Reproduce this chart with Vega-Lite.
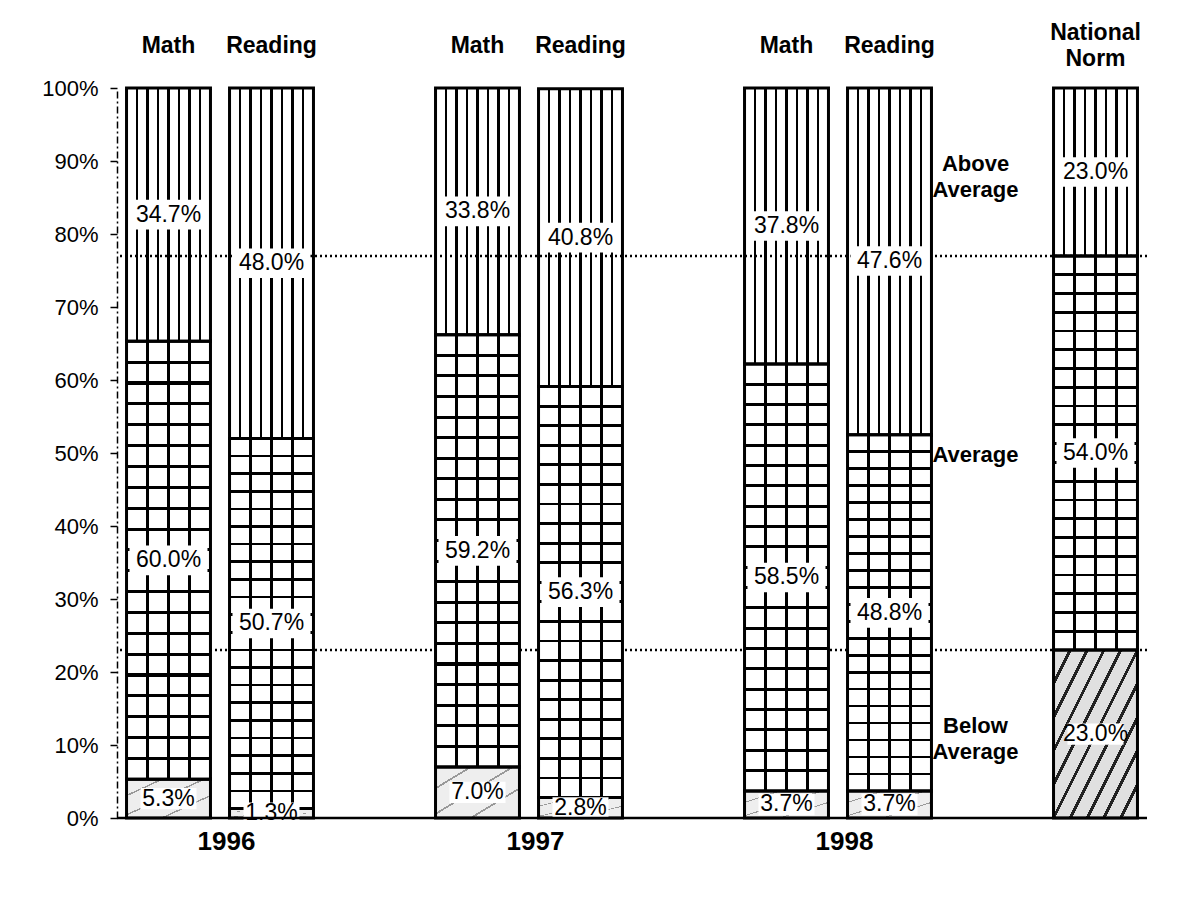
{
  "$schema": "https://vega.github.io/schema/vega-lite/v6.json",
  "autosize": "none",
  "padding": {"left": 117, "top": 88, "right": 30, "bottom": 81},
  "width": 1030,
  "height": 730,
  "background": "white",
  "config": {"view": {"stroke": null}, "font": "Liberation Sans"},
  "data": {"values": [
    {"group": "1996 Math", "year": "1996", "subject": "Math", "level": "Below", "value": 0.053},
    {"group": "1996 Math", "year": "1996", "subject": "Math", "level": "Average", "value": 0.600},
    {"group": "1996 Math", "year": "1996", "subject": "Math", "level": "Above", "value": 0.347},
    {"group": "1996 Reading", "year": "1996", "subject": "Reading", "level": "Below", "value": 0.013},
    {"group": "1996 Reading", "year": "1996", "subject": "Reading", "level": "Average", "value": 0.507},
    {"group": "1996 Reading", "year": "1996", "subject": "Reading", "level": "Above", "value": 0.480},
    {"group": "1997 Math", "year": "1997", "subject": "Math", "level": "Below", "value": 0.070},
    {"group": "1997 Math", "year": "1997", "subject": "Math", "level": "Average", "value": 0.592},
    {"group": "1997 Math", "year": "1997", "subject": "Math", "level": "Above", "value": 0.338},
    {"group": "1997 Reading", "year": "1997", "subject": "Reading", "level": "Below", "value": 0.028},
    {"group": "1997 Reading", "year": "1997", "subject": "Reading", "level": "Average", "value": 0.563},
    {"group": "1997 Reading", "year": "1997", "subject": "Reading", "level": "Above", "value": 0.408},
    {"group": "1998 Math", "year": "1998", "subject": "Math", "level": "Below", "value": 0.037},
    {"group": "1998 Math", "year": "1998", "subject": "Math", "level": "Average", "value": 0.585},
    {"group": "1998 Math", "year": "1998", "subject": "Math", "level": "Above", "value": 0.378},
    {"group": "1998 Reading", "year": "1998", "subject": "Reading", "level": "Below", "value": 0.037},
    {"group": "1998 Reading", "year": "1998", "subject": "Reading", "level": "Average", "value": 0.488},
    {"group": "1998 Reading", "year": "1998", "subject": "Reading", "level": "Above", "value": 0.476},
    {"group": "National Norm", "year": "", "subject": "National Norm", "level": "Below", "value": 0.23},
    {"group": "National Norm", "year": "", "subject": "National Norm", "level": "Average", "value": 0.54},
    {"group": "National Norm", "year": "", "subject": "National Norm", "level": "Above", "value": 0.23}
  ]},
  "transform": [
    {"calculate": "indexof(['Below','Average','Above'], datum.level)", "as": "rank"},
    {"stack": "value", "groupby": ["group"], "sort": [{"field": "rank", "order": "ascending"}], "as": ["v0", "v1"]},
    {"calculate": "(datum.v0 + datum.v1) / 2", "as": "mid"}
  ],
  "layer": [
    {
      "transform": [{"filter": "datum.level === 'Above'"}],
      "mark": {"type": "bar", "stroke": null, "fill": {"gradient": "linear", "x1": 0, "y1": 0, "x2": 1, "y2": 0, "stops": [
        {"offset": 0, "color": "#ffffff"},
        {"offset": 0.11, "color": "#ffffff"}, {"offset": 0.11, "color": "#000000"}, {"offset": 0.14, "color": "#000000"}, {"offset": 0.14, "color": "#ffffff"},
        {"offset": 0.235, "color": "#ffffff"}, {"offset": 0.235, "color": "#000000"}, {"offset": 0.265, "color": "#000000"}, {"offset": 0.265, "color": "#ffffff"},
        {"offset": 0.36, "color": "#ffffff"}, {"offset": 0.36, "color": "#000000"}, {"offset": 0.39, "color": "#000000"}, {"offset": 0.39, "color": "#ffffff"},
        {"offset": 0.485, "color": "#ffffff"}, {"offset": 0.485, "color": "#000000"}, {"offset": 0.515, "color": "#000000"}, {"offset": 0.515, "color": "#ffffff"},
        {"offset": 0.61, "color": "#ffffff"}, {"offset": 0.61, "color": "#000000"}, {"offset": 0.64, "color": "#000000"}, {"offset": 0.64, "color": "#ffffff"},
        {"offset": 0.735, "color": "#ffffff"}, {"offset": 0.735, "color": "#000000"}, {"offset": 0.765, "color": "#000000"}, {"offset": 0.765, "color": "#ffffff"},
        {"offset": 0.86, "color": "#ffffff"}, {"offset": 0.86, "color": "#000000"}, {"offset": 0.89, "color": "#000000"}, {"offset": 0.89, "color": "#ffffff"},
        {"offset": 1, "color": "#ffffff"}
      ]}},
      "encoding": {
        "x": {"field": "group", "type": "nominal", "title": null, "scale": {"domain": ["1996 Math", "1996 Reading", "g1", "1997 Math", "1997 Reading", "g2", "1998 Math", "1998 Reading", "labels", "National Norm"], "paddingInner": 0.185, "paddingOuter": 0.0925},
          "axis": {"orient": "top", "title": null, "domain": false, "ticks": false, "labelAngle": 0, "labelFont": "Liberation Sans", "labelFontWeight": "bold", "labelFontSize": 23, "labelColor": "#000000", "labelPadding": {"condition": {"test": "datum.value == 'National Norm'", "value": 56}, "value": 43}, "labelBaseline": "middle", "labelLineHeight": 26, "labelOverlap": false, "labelLimit": 200, "labelExpr": "datum.value == 'National Norm' ? ['National','Norm'] : indexof(datum.value, ' ') > 0 ? split(datum.value, ' ')[1] : ''"}},
        "y": {"field": "v1", "type": "quantitative", "title": null, "scale": {"domain": [0, 1], "clamp": true},
          "axis": {"title": null, "values": [0, 0.1, 0.2, 0.3, 0.4, 0.5, 0.6, 0.7, 0.8, 0.9, 1], "format": "%", "grid": false, "domainColor": "#000000", "domainDash": [7, 3, 2, 3], "domainWidth": 1.5, "tickColor": "#000000", "tickSize": 7, "tickWidth": 1.5, "labelFontSize": 22, "labelColor": "#000000", "labelPadding": 12, "labelFont": "Liberation Sans"}},
        "y2": {"field": "v0"}
      }
    },
    {
      "data": {"values": [{"p": 0.23}, {"p": 0.77}]},
      "mark": {"type": "rule", "strokeDash": [2, 3], "strokeWidth": 2.5, "color": "#000000"},
      "encoding": {
        "y": {"field": "p", "type": "quantitative", "title": null, "scale": {"domain": [0, 1], "clamp": true}}
      }
    },
    {
      "transform": [{"filter": "datum.level === 'Average'"}],
      "mark": {"type": "bar", "stroke": null, "fill": {"gradient": "linear", "x1": 0, "y1": 0, "x2": 1, "y2": 0, "stops": [
        {"offset": 0, "color": "#ffffff"},
        {"offset": 0.2325, "color": "#ffffff"}, {"offset": 0.2325, "color": "#000000"}, {"offset": 0.2675, "color": "#000000"}, {"offset": 0.2675, "color": "#ffffff"},
        {"offset": 0.4825, "color": "#ffffff"}, {"offset": 0.4825, "color": "#000000"}, {"offset": 0.5175, "color": "#000000"}, {"offset": 0.5175, "color": "#ffffff"},
        {"offset": 0.7325, "color": "#ffffff"}, {"offset": 0.7325, "color": "#000000"}, {"offset": 0.7675, "color": "#000000"}, {"offset": 0.7675, "color": "#ffffff"},
        {"offset": 1, "color": "#ffffff"}
      ]}},
      "encoding": {
        "x": {"field": "group", "type": "nominal", "title": null, "scale": {"domain": ["1996 Math", "1996 Reading", "g1", "1997 Math", "1997 Reading", "g2", "1998 Math", "1998 Reading", "labels", "National Norm"], "paddingInner": 0.185, "paddingOuter": 0.0925}},
        "y": {"field": "v1", "type": "quantitative", "title": null, "scale": {"domain": [0, 1], "clamp": true}},
        "y2": {"field": "v0"}
      }
    },
    {
      "transform": [{"filter": "datum.level === 'Average'"}],
      "mark": {"type": "bar", "stroke": null, "fill": {"gradient": "linear", "x1": 0, "y1": 0, "x2": 0, "y2": 1, "stops": [
        {"offset": 0, "color": "rgba(0,0,0,0)"},
        {"offset": 0.0441, "color": "rgba(0,0,0,0)"}, {"offset": 0.0441, "color": "#000000"}, {"offset": 0.0511, "color": "#000000"}, {"offset": 0.0511, "color": "rgba(0,0,0,0)"},
        {"offset": 0.0917, "color": "rgba(0,0,0,0)"}, {"offset": 0.0917, "color": "#000000"}, {"offset": 0.0987, "color": "#000000"}, {"offset": 0.0987, "color": "rgba(0,0,0,0)"},
        {"offset": 0.1394, "color": "rgba(0,0,0,0)"}, {"offset": 0.1394, "color": "#000000"}, {"offset": 0.1464, "color": "#000000"}, {"offset": 0.1464, "color": "rgba(0,0,0,0)"},
        {"offset": 0.1870, "color": "rgba(0,0,0,0)"}, {"offset": 0.1870, "color": "#000000"}, {"offset": 0.1940, "color": "#000000"}, {"offset": 0.1940, "color": "rgba(0,0,0,0)"},
        {"offset": 0.2346, "color": "rgba(0,0,0,0)"}, {"offset": 0.2346, "color": "#000000"}, {"offset": 0.2416, "color": "#000000"}, {"offset": 0.2416, "color": "rgba(0,0,0,0)"},
        {"offset": 0.2822, "color": "rgba(0,0,0,0)"}, {"offset": 0.2822, "color": "#000000"}, {"offset": 0.2892, "color": "#000000"}, {"offset": 0.2892, "color": "rgba(0,0,0,0)"},
        {"offset": 0.3298, "color": "rgba(0,0,0,0)"}, {"offset": 0.3298, "color": "#000000"}, {"offset": 0.3368, "color": "#000000"}, {"offset": 0.3368, "color": "rgba(0,0,0,0)"},
        {"offset": 0.3775, "color": "rgba(0,0,0,0)"}, {"offset": 0.3775, "color": "#000000"}, {"offset": 0.3845, "color": "#000000"}, {"offset": 0.3845, "color": "rgba(0,0,0,0)"},
        {"offset": 0.4251, "color": "rgba(0,0,0,0)"}, {"offset": 0.4251, "color": "#000000"}, {"offset": 0.4321, "color": "#000000"}, {"offset": 0.4321, "color": "rgba(0,0,0,0)"},
        {"offset": 0.4727, "color": "rgba(0,0,0,0)"}, {"offset": 0.4727, "color": "#000000"}, {"offset": 0.4797, "color": "#000000"}, {"offset": 0.4797, "color": "rgba(0,0,0,0)"},
        {"offset": 0.5203, "color": "rgba(0,0,0,0)"}, {"offset": 0.5203, "color": "#000000"}, {"offset": 0.5273, "color": "#000000"}, {"offset": 0.5273, "color": "rgba(0,0,0,0)"},
        {"offset": 0.5679, "color": "rgba(0,0,0,0)"}, {"offset": 0.5679, "color": "#000000"}, {"offset": 0.5749, "color": "#000000"}, {"offset": 0.5749, "color": "rgba(0,0,0,0)"},
        {"offset": 0.6155, "color": "rgba(0,0,0,0)"}, {"offset": 0.6155, "color": "#000000"}, {"offset": 0.6225, "color": "#000000"}, {"offset": 0.6225, "color": "rgba(0,0,0,0)"},
        {"offset": 0.6632, "color": "rgba(0,0,0,0)"}, {"offset": 0.6632, "color": "#000000"}, {"offset": 0.6702, "color": "#000000"}, {"offset": 0.6702, "color": "rgba(0,0,0,0)"},
        {"offset": 0.7108, "color": "rgba(0,0,0,0)"}, {"offset": 0.7108, "color": "#000000"}, {"offset": 0.7178, "color": "#000000"}, {"offset": 0.7178, "color": "rgba(0,0,0,0)"},
        {"offset": 0.7584, "color": "rgba(0,0,0,0)"}, {"offset": 0.7584, "color": "#000000"}, {"offset": 0.7654, "color": "#000000"}, {"offset": 0.7654, "color": "rgba(0,0,0,0)"},
        {"offset": 0.8060, "color": "rgba(0,0,0,0)"}, {"offset": 0.8060, "color": "#000000"}, {"offset": 0.8130, "color": "#000000"}, {"offset": 0.8130, "color": "rgba(0,0,0,0)"},
        {"offset": 0.8536, "color": "rgba(0,0,0,0)"}, {"offset": 0.8536, "color": "#000000"}, {"offset": 0.8606, "color": "#000000"}, {"offset": 0.8606, "color": "rgba(0,0,0,0)"},
        {"offset": 0.9013, "color": "rgba(0,0,0,0)"}, {"offset": 0.9013, "color": "#000000"}, {"offset": 0.9083, "color": "#000000"}, {"offset": 0.9083, "color": "rgba(0,0,0,0)"},
        {"offset": 0.9489, "color": "rgba(0,0,0,0)"}, {"offset": 0.9489, "color": "#000000"}, {"offset": 0.9559, "color": "#000000"}, {"offset": 0.9559, "color": "rgba(0,0,0,0)"},
        {"offset": 1, "color": "rgba(0,0,0,0)"}
      ]}},
      "encoding": {
        "x": {"field": "group", "type": "nominal", "title": null, "scale": {"domain": ["1996 Math", "1996 Reading", "g1", "1997 Math", "1997 Reading", "g2", "1998 Math", "1998 Reading", "labels", "National Norm"], "paddingInner": 0.185, "paddingOuter": 0.0925}},
        "y": {"field": "v1", "type": "quantitative", "title": null, "scale": {"domain": [0, 1], "clamp": true}},
        "y2": {"field": "v0"}
      }
    },
    {
      "transform": [{"filter": "datum.level === 'Below' && datum.group !== 'National Norm'"}],
      "mark": {"type": "bar", "stroke": null, "fill": {"gradient": "linear", "x1": 0, "y1": 0, "x2": 1, "y2": 1, "stops": [
        {"offset": 0, "color": "#eeeeee"},
        {"offset": 0.2, "color": "#eeeeee"}, {"offset": 0.2, "color": "#999999"}, {"offset": 0.22, "color": "#999999"}, {"offset": 0.22, "color": "#eeeeee"},
        {"offset": 0.45, "color": "#eeeeee"}, {"offset": 0.45, "color": "#999999"}, {"offset": 0.47, "color": "#999999"}, {"offset": 0.47, "color": "#eeeeee"},
        {"offset": 0.7, "color": "#eeeeee"}, {"offset": 0.7, "color": "#999999"}, {"offset": 0.72, "color": "#999999"}, {"offset": 0.72, "color": "#eeeeee"},
        {"offset": 1, "color": "#eeeeee"}
      ]}},
      "encoding": {
        "x": {"field": "group", "type": "nominal", "title": null, "scale": {"domain": ["1996 Math", "1996 Reading", "g1", "1997 Math", "1997 Reading", "g2", "1998 Math", "1998 Reading", "labels", "National Norm"], "paddingInner": 0.185, "paddingOuter": 0.0925}},
        "y": {"field": "v1", "type": "quantitative", "title": null, "scale": {"domain": [0, 1], "clamp": true}},
        "y2": {"field": "v0"}
      }
    },
    {
      "transform": [{"filter": "datum.level === 'Below' && datum.group === 'National Norm'"}],
      "mark": {"type": "bar", "stroke": null, "fill": {"gradient": "linear", "x1": 0, "y1": 0, "x2": 1, "y2": 1, "stops": [
        {"offset": 0, "color": "#e0e0e0"},
        {"offset": 0.09, "color": "#e0e0e0"}, {"offset": 0.09, "color": "#222222"}, {"offset": 0.11, "color": "#222222"}, {"offset": 0.11, "color": "#e0e0e0"},
        {"offset": 0.19, "color": "#e0e0e0"}, {"offset": 0.19, "color": "#222222"}, {"offset": 0.21, "color": "#222222"}, {"offset": 0.21, "color": "#e0e0e0"},
        {"offset": 0.29, "color": "#e0e0e0"}, {"offset": 0.29, "color": "#222222"}, {"offset": 0.31, "color": "#222222"}, {"offset": 0.31, "color": "#e0e0e0"},
        {"offset": 0.39, "color": "#e0e0e0"}, {"offset": 0.39, "color": "#222222"}, {"offset": 0.41, "color": "#222222"}, {"offset": 0.41, "color": "#e0e0e0"},
        {"offset": 0.49, "color": "#e0e0e0"}, {"offset": 0.49, "color": "#222222"}, {"offset": 0.51, "color": "#222222"}, {"offset": 0.51, "color": "#e0e0e0"},
        {"offset": 0.59, "color": "#e0e0e0"}, {"offset": 0.59, "color": "#222222"}, {"offset": 0.61, "color": "#222222"}, {"offset": 0.61, "color": "#e0e0e0"},
        {"offset": 0.69, "color": "#e0e0e0"}, {"offset": 0.69, "color": "#222222"}, {"offset": 0.71, "color": "#222222"}, {"offset": 0.71, "color": "#e0e0e0"},
        {"offset": 0.79, "color": "#e0e0e0"}, {"offset": 0.79, "color": "#222222"}, {"offset": 0.81, "color": "#222222"}, {"offset": 0.81, "color": "#e0e0e0"},
        {"offset": 0.89, "color": "#e0e0e0"}, {"offset": 0.89, "color": "#222222"}, {"offset": 0.91, "color": "#222222"}, {"offset": 0.91, "color": "#e0e0e0"},
        {"offset": 1, "color": "#e0e0e0"}
      ]}},
      "encoding": {
        "x": {"field": "group", "type": "nominal", "title": null, "scale": {"domain": ["1996 Math", "1996 Reading", "g1", "1997 Math", "1997 Reading", "g2", "1998 Math", "1998 Reading", "labels", "National Norm"], "paddingInner": 0.185, "paddingOuter": 0.0925}},
        "y": {"field": "v1", "type": "quantitative", "title": null, "scale": {"domain": [0, 1], "clamp": true}},
        "y2": {"field": "v0"}
      }
    },
    {
      "mark": {"type": "bar", "fill": "#ffffff", "fillOpacity": 0, "stroke": "#000000", "strokeWidth": 3},
      "encoding": {
        "x": {"field": "group", "type": "nominal", "title": null, "scale": {"domain": ["1996 Math", "1996 Reading", "g1", "1997 Math", "1997 Reading", "g2", "1998 Math", "1998 Reading", "labels", "National Norm"], "paddingInner": 0.185, "paddingOuter": 0.0925}},
        "y": {"field": "v1", "type": "quantitative", "title": null, "scale": {"domain": [0, 1], "clamp": true}},
        "y2": {"field": "v0"}
      }
    },
    {
      "mark": {"type": "point", "shape": "M-1,-0.38L1,-0.38L1,0.38L-1,0.38Z", "filled": true, "fill": "#ffffff", "opacity": 1, "strokeWidth": 0},
      "encoding": {
        "x": {"field": "group", "type": "nominal", "title": null, "scale": {"domain": ["1996 Math", "1996 Reading", "g1", "1997 Math", "1997 Reading", "g2", "1998 Math", "1998 Reading", "labels", "National Norm"], "paddingInner": 0.185, "paddingOuter": 0.0925}},
        "y": {"field": "mid", "type": "quantitative", "title": null, "scale": {"domain": [0, 1], "clamp": true}},
        "size": {"condition": {"test": "datum.level === 'Below'", "value": 3136}, "value": 6084}
      }
    },
    {
      "mark": {"type": "text", "fontSize": 23, "font": "Liberation Sans", "color": "#000000", "baseline": "middle", "align": "center"},
      "encoding": {
        "x": {"field": "group", "type": "nominal", "title": null, "scale": {"domain": ["1996 Math", "1996 Reading", "g1", "1997 Math", "1997 Reading", "g2", "1998 Math", "1998 Reading", "labels", "National Norm"], "paddingInner": 0.185, "paddingOuter": 0.0925}},
        "y": {"field": "mid", "type": "quantitative", "title": null, "scale": {"domain": [0, 1], "clamp": true}},
        "text": {"field": "value", "type": "quantitative", "format": ".1%"}
      }
    },
    {
      "data": {"values": [{"p": 0}]},
      "mark": {"type": "rule", "strokeWidth": 2.5, "color": "#000000"},
      "encoding": {
        "y": {"field": "p", "type": "quantitative", "title": null, "scale": {"domain": [0, 1], "clamp": true}}
      }
    },
    {
      "transform": [{"filter": "datum.subject === 'Math' && datum.level === 'Below'"}],
      "mark": {"type": "text", "fontSize": 26, "font": "Liberation Sans", "fontWeight": "bold", "color": "#000000", "baseline": "middle", "align": "center", "dx": 58, "dy": 24},
      "encoding": {
        "x": {"field": "group", "type": "nominal", "title": null, "scale": {"domain": ["1996 Math", "1996 Reading", "g1", "1997 Math", "1997 Reading", "g2", "1998 Math", "1998 Reading", "labels", "National Norm"], "paddingInner": 0.185, "paddingOuter": 0.0925}},
        "y": {"datum": 0, "type": "quantitative", "title": null, "scale": {"domain": [0, 1], "clamp": true}},
        "text": {"field": "year", "type": "nominal"}
      }
    },
    {
      "transform": [
        {"filter": "datum.group === 'National Norm' && datum.level !== 'Average'"},
        {"calculate": "datum.level === 'Above' ? 'Above|Average' : 'Below|Average'", "as": "cat"}
      ],
      "mark": {"type": "text", "fontSize": 22, "font": "Liberation Sans", "fontWeight": "bold", "color": "#000000", "baseline": "middle", "align": "center", "lineBreak": "|", "lineHeight": 26, "dx": -17, "dy": -8},
      "encoding": {
        "x": {"datum": "labels", "type": "nominal", "title": null, "scale": {"domain": ["1996 Math", "1996 Reading", "g1", "1997 Math", "1997 Reading", "g2", "1998 Math", "1998 Reading", "labels", "National Norm"], "paddingInner": 0.185, "paddingOuter": 0.0925}},
        "y": {"field": "mid", "type": "quantitative", "title": null, "scale": {"domain": [0, 1], "clamp": true}},
        "text": {"field": "cat", "type": "nominal"}
      }
    },
    {
      "transform": [
        {"filter": "datum.group === 'National Norm' && datum.level === 'Average'"}
      ],
      "mark": {"type": "text", "fontSize": 22, "font": "Liberation Sans", "fontWeight": "bold", "color": "#000000", "baseline": "middle", "align": "center", "dx": -17, "dy": 2},
      "encoding": {
        "x": {"datum": "labels", "type": "nominal", "title": null, "scale": {"domain": ["1996 Math", "1996 Reading", "g1", "1997 Math", "1997 Reading", "g2", "1998 Math", "1998 Reading", "labels", "National Norm"], "paddingInner": 0.185, "paddingOuter": 0.0925}},
        "y": {"field": "mid", "type": "quantitative", "title": null, "scale": {"domain": [0, 1], "clamp": true}},
        "text": {"field": "level", "type": "nominal"}
      }
    }
  ]
}
